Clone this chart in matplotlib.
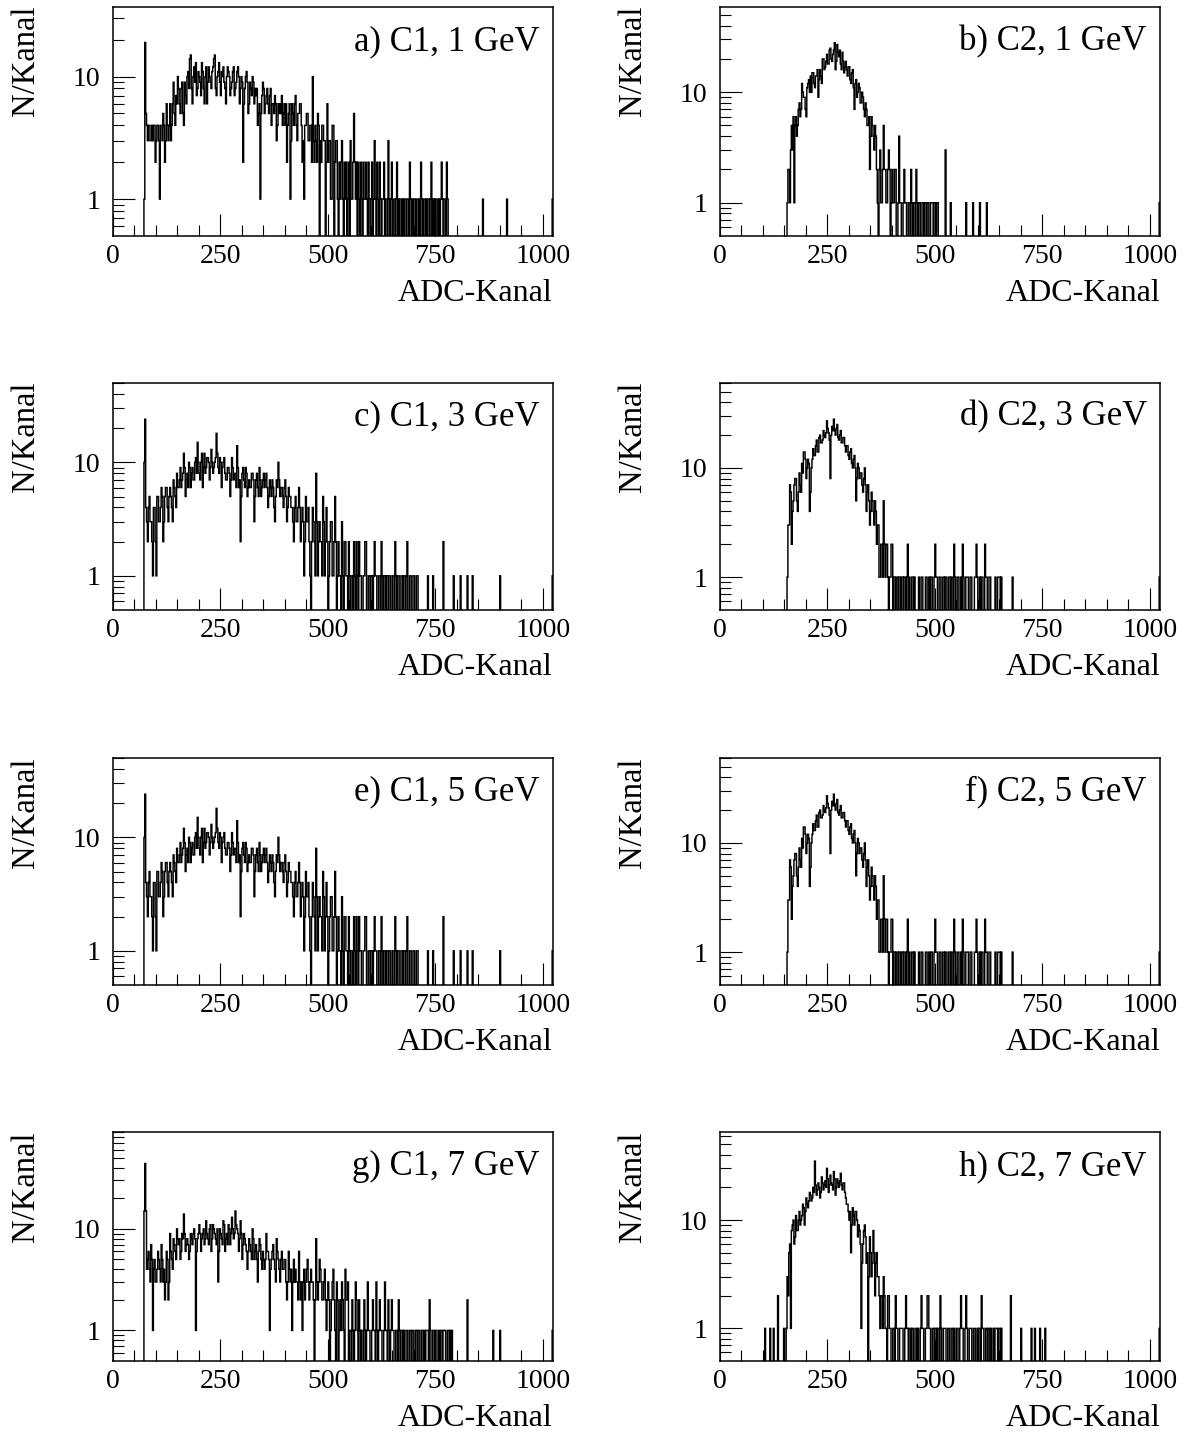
import matplotlib
matplotlib.use("Agg")
import matplotlib.pyplot as plt
from matplotlib.ticker import FixedLocator, NullFormatter
import numpy as np

plt.rcParams['font.family'] = ['Liberation Serif', 'DejaVu Serif']

# --- ADC spectra, N per channel (2 channels per bin)
BIN = 2
NCH = 1024

panels = ["a) C1, 1 GeV", "b) C2, 1 GeV", "c) C1, 3 GeV", "d) C2, 3 GeV",
          "e) C1, 5 GeV", "f) C2, 5 GeV", "g) C1, 7 GeV", "h) C2, 7 GeV"]

a_first = 72
a_counts = [1, 19, 5, 4, 3, 4, 4, 3, 3, 4,   3, 4, 4, 2, 3, 4, 4, 3, 1, 4,
            4, 3, 5, 4, 2, 3, 6, 4, 3, 4,    6, 3, 4, 6, 9, 5, 4, 7, 6, 10,
            8, 6, 5, 8, 9, 5, 4, 9, 7, 6,    10, 11, 8, 14, 15, 8, 6, 10, 12, 9,
            13, 7, 8, 11, 10, 9, 7, 13, 11, 8,  6, 10, 12, 6, 9, 12, 10, 9, 8, 11,
            12, 14, 15, 8, 7, 10, 11, 13, 9, 7,  11, 10, 12, 9, 8, 6, 10, 12, 11, 10,
            7, 8, 9, 11, 12, 7, 8, 9, 11, 12,  10, 6, 8, 10, 9, 2, 6, 8, 10, 11,
            9, 5, 6, 9, 8, 7, 10, 9, 6, 8,   7, 8, 4, 5, 6, 1, 5, 7, 9, 8,
            5, 6, 7, 8, 6, 5, 7, 8, 4, 6,    6, 5, 7, 6, 3, 4, 6, 5, 6, 5,
            7, 4, 5, 6, 4, 6, 2, 4, 5, 6,    1, 3, 6, 5, 4, 6, 7, 4, 3, 5,
            5, 6, 6, 4, 2, 3, 1, 4, 4, 5,    5, 3, 3, 4, 4, 2, 10, 3, 2, 4,
            3, 2, 5, 4, 0, 3, 2, 4, 4, 3,    3, 0, 2, 6, 2, 3, 3, 1, 1, 4,
            4, 0, 2, 3, 3, 1, 0, 2, 1, 2,    3, 1, 0, 2, 1, 2, 0, 1, 2, 0,
            3, 1, 1, 2, 5, 2, 1, 2, 0, 2,    1, 0, 2, 1, 0, 2, 1, 1, 2, 1,
            0, 2, 1, 0, 1, 2, 0, 1, 3, 1,    0, 2, 1, 0, 2, 1, 0, 1, 1, 2,
            0, 1, 1, 0, 3, 1, 0, 1, 2, 0,    1, 1, 0, 1, 2, 0, 1, 0, 1, 1,
            0, 1, 0, 1, 1, 0, 1, 1, 0, 2,    1, 0, 1, 0, 1, 1, 0, 1, 1, 0,
            1, 0, 2, 1, 0, 1, 1, 0, 1, 0,    1, 1, 0, 1, 2, 0, 1, 0, 1, 0,
            1, 1, 0, 1, 0, 1, 2, 1, 0, 1,    1, 0, 2, 1, 0]
a_tail_ch = [860, 916, 1022]
a_tail_n = [1, 1, 1]

b_first = 156
b_counts = [1, 2, 2, 1, 3, 5, 3, 6, 1, 5,    6, 4, 5, 7, 8, 6, 7, 12, 10, 9,
            9, 7, 6, 11, 12, 13, 10, 14, 10, 15,  15, 12, 11, 14, 14, 16, 9, 13, 16, 14,
            12, 20, 20, 16, 17, 19, 22, 18, 18, 24,  25, 20, 19, 22, 24, 28, 16, 19, 27, 23,
            21, 24, 18, 16, 23, 19, 15, 17, 19, 16,  14, 17, 17, 13, 12, 15, 16, 11, 7, 12,
            13, 9, 10, 12, 11, 8, 8, 10, 9, 7,   6, 8, 7, 5, 5, 6, 2, 4, 6, 5,
            4, 3, 5, 4, 2, 1, 0, 2, 3, 1,    1, 2, 5, 2, 2, 1, 1, 2, 3, 2,
            0, 1, 2, 1, 1, 2, 2, 0, 0, 1,    4, 1, 1, 0, 0, 1, 2, 1, 1, 0,
            0, 1, 1, 0, 2, 1, 0, 1, 1, 0,    2, 1, 0, 1, 1, 0, 0, 1, 1, 0,
            1, 1, 0, 1, 1, 0, 0, 1, 1, 1,    0, 1, 1, 0, 1, 1]
b_tail_ch = [524, 536, 572, 588, 604, 620, 1022]
b_tail_n = [3, 1, 1, 1, 1, 1, 1]

c_first = 72
c_counts = [10, 24, 4, 3, 2, 4, 5, 3, 3, 2,   1, 4, 4, 2, 1, 5, 5, 3, 3, 4,
            6, 5, 2, 3, 5, 6, 6, 4, 3, 5,    6, 5, 4, 3, 7, 6, 5, 4, 8, 6,
            6, 7, 9, 6, 7, 8, 12, 9, 5, 7,   8, 6, 10, 9, 6, 8, 9, 7, 7, 10,
            11, 8, 15, 10, 8, 7, 10, 12, 6, 9,  12, 8, 9, 11, 11, 10, 7, 9, 13, 10,
            8, 9, 10, 11, 18, 12, 9, 8, 11, 10,  6, 9, 10, 11, 8, 7, 7, 9, 9, 8,
            5, 7, 11, 9, 7, 8, 8, 6, 14, 9,   6, 7, 2, 5, 8, 9, 7, 6, 9, 8,
            5, 6, 7, 6, 6, 8, 8, 7, 3, 5,    7, 8, 6, 5, 9, 7, 5, 6, 7, 8,
            6, 7, 8, 6, 4, 5, 7, 6, 5, 7,    6, 4, 3, 5, 7, 6, 10, 7, 5, 6,
            6, 5, 4, 6, 7, 5, 3, 4, 6, 5,    5, 4, 4, 3, 2, 4, 5, 3, 3, 4,
            6, 4, 2, 3, 4, 3, 1, 2, 5, 3,    3, 4, 2, 1, 0, 2, 4, 3, 2, 1,
            8, 3, 1, 2, 3, 2, 2, 1, 5, 3,    1, 2, 4, 2, 0, 1, 2, 3, 3, 1,
            1, 2, 5, 2, 0, 1, 2, 1, 1, 0,    3, 1, 0, 2, 2, 1, 1, 0, 2, 1,
            0, 1, 1, 0, 2, 1, 0, 2, 1, 0,    2, 1, 1, 0, 0, 1, 1, 2, 2, 0,
            0, 1, 1, 0, 1, 1, 0, 1, 2, 1,    1, 0, 0, 1, 1, 0, 2, 1, 0, 1,
            1, 0, 1, 1, 0, 1, 1, 0, 0, 1,    1, 0, 2, 1, 0, 1, 1, 0, 0, 1,
            1, 0, 1, 1, 0, 1, 2, 0, 0, 1,    1, 0, 0, 1, 1, 0, 0, 1, 1, 0]
c_tail_ch = [732, 744, 768, 792, 808, 824, 836, 900, 1022]
c_tail_n = [1, 1, 2, 1, 1, 1, 1, 1, 1]

d_first = 156
d_counts = [1, 3, 3, 7, 6, 2, 4, 5, 7, 8,    8, 5, 4, 6, 9, 7, 6, 11, 9, 14,
            14, 12, 8, 10, 12, 11, 4, 6, 10, 12,  15, 13, 13, 16, 18, 14, 14, 19, 20, 17,
            17, 18, 22, 20, 19, 21, 27, 23, 21, 18,  8, 20, 24, 22, 28, 22, 20, 23, 25, 19,
            18, 20, 22, 17, 17, 19, 19, 16, 14, 16,  16, 13, 12, 14, 15, 11, 10, 12, 13, 10,
            5, 8, 11, 10, 8, 9, 9, 7, 6, 8,   10, 7, 4, 6, 7, 5, 3, 4, 6, 5,
            4, 3, 5, 4, 2, 3, 3, 1, 1, 2,    2, 1, 5, 2, 1, 2, 2, 1, 0, 1,
            1, 2, 2, 0, 1, 1, 0, 1, 1, 0,    1, 1, 0, 1, 1, 0, 1, 1, 0, 1,
            2, 0, 1, 0, 0, 1, 1, 0, 1, 0,    0, 0, 0, 1, 0, 0, 1, 1, 0, 0,
            0, 1, 1, 0, 0, 1, 0, 1, 1, 0,    0, 1, 2, 1, 1, 0, 0, 1, 1, 0,
            0, 1, 1, 0, 1, 1, 0, 0, 1, 1,    0, 1, 1, 0, 2, 1, 0, 0, 1, 1,
            0, 0, 1, 0, 2, 1, 0, 0, 1, 1,    1, 0, 0, 1, 1, 0, 0, 0, 1, 1,
            2, 1, 0, 0, 1, 0, 1, 1, 0, 0,    2, 1, 1, 0, 0, 1, 1, 0, 0, 0,
            0, 0, 1, 0, 0, 1, 1, 1, 0, 1]
d_tail_ch = [680, 1022]
d_tail_n = [1, 1]

# the 5 GeV spectra look identical to the 3 GeV ones
e_first, e_counts, e_tail_ch, e_tail_n = c_first, c_counts, c_tail_ch, c_tail_n
f_first, f_counts, f_tail_ch, f_tail_n = d_first, d_counts, d_tail_ch, d_tail_n

g_first = 72
g_counts = [15, 44, 15, 4, 5, 6, 4, 3, 7, 5,   1, 4, 5, 3, 3, 4, 6, 5, 4, 3,
            7, 5, 3, 4, 2, 3, 6, 5, 2, 3,    9, 6, 5, 4, 8, 7, 6, 5, 10, 8,
            7, 8, 5, 6, 9, 8, 14, 9, 6, 7,   8, 7, 5, 6, 9, 8, 7, 9, 10, 8,
            1, 6, 8, 9, 11, 9, 6, 8, 9, 10,  7, 8, 12, 9, 8, 7, 10, 11, 6, 8,
            11, 10, 9, 8, 7, 10, 3, 6, 10, 9,  8, 7, 12, 11, 6, 8, 9, 7, 11, 10,
            7, 9, 13, 10, 8, 9, 15, 11, 10, 9,  6, 8, 12, 9, 5, 7, 9, 8, 7, 6,
            4, 6, 8, 7, 6, 5, 10, 8, 5, 6,   7, 5, 3, 6, 8, 7, 5, 4, 6, 5,
            4, 5, 9, 6, 6, 5, 1, 4, 5, 6,    7, 5, 4, 3, 8, 6, 5, 4, 3, 5,
            6, 4, 4, 5, 5, 3, 2, 3, 6, 4,    3, 4, 1, 3, 5, 3, 4, 3, 3, 2,
            6, 3, 2, 3, 1, 3, 4, 2, 3, 4,    5, 3, 2, 3, 4, 3, 3, 2, 0, 2,
            8, 3, 2, 3, 5, 4, 3, 2, 2, 3,    4, 2, 1, 2, 3, 2, 0, 1, 2, 3,
            4, 2, 1, 0, 3, 2, 0, 1, 2, 1,    3, 2, 1, 0, 4, 2, 2, 3, 0, 1,
            1, 0, 2, 1, 0, 1, 3, 2, 1, 0,    2, 1, 0, 1, 1, 0, 2, 1, 0, 1,
            3, 1, 1, 0, 0, 1, 2, 1, 1, 0,    3, 1, 0, 1, 2, 1, 1, 0, 0, 1,
            3, 1, 1, 0, 2, 1, 0, 1, 2, 1,    1, 0, 0, 1, 1, 0, 2, 1, 0, 1,
            1, 0, 1, 0, 0, 1, 1, 0, 0, 1,    1, 0, 1, 1, 0, 0, 1, 1, 0, 1,
            1, 0, 0, 1, 1, 0, 1, 0, 1, 1,    1, 0, 2, 1, 0, 0, 1, 1, 0, 1,
            1, 0, 0, 1, 0, 1, 1, 0, 1, 1,    1, 0, 0, 1, 1, 0, 1, 0, 1]
g_tail_ch = [824, 884, 900, 1022]
g_tail_n = [2, 1, 1, 1]

h_first = 104
h_counts = [1, 0, 0, 0, 0, 0, 1, 0, 0, 0,    1, 0, 0, 0, 0, 2, 0, 0, 0, 0,
            0, 0, 1, 0, 0, 1, 3, 2, 5, 6,    1, 8, 9, 10, 6, 7, 11, 8, 8, 10,
            12, 9, 10, 11, 14, 13, 9, 12, 16, 14,  13, 15, 18, 17, 15, 16, 20, 18, 35, 21,
            17, 19, 22, 20, 16, 18, 25, 22, 19, 21,  23, 20, 30, 24, 18, 21, 26, 22, 21, 19,
            28, 24, 17, 20, 24, 22, 20, 23, 27, 21,  19, 22, 22, 18, 16, 14, 14, 12, 10, 12,
            5, 9, 13, 11, 9, 12, 12, 10, 7, 9,   8, 6, 1, 4, 6, 8, 9, 7, 4, 5,
            0, 3, 7, 5, 3, 4, 8, 5, 2, 4,    5, 3, 3, 2, 1, 2, 2, 1, 3, 2,
            1, 1, 0, 2, 2, 1, 1, 0, 0, 1,    1, 0, 2, 1, 1, 0, 0, 1, 1, 1,
            1, 0, 0, 1, 2, 1, 1, 0, 1, 1,    0, 1, 1, 0, 0, 1, 1, 0, 1, 0,
            0, 1, 2, 1, 1, 0, 0, 1, 1, 2,    2, 1, 1, 0, 0, 1, 1, 0, 1, 1,
            0, 1, 1, 0, 2, 1, 0, 0, 1, 1,    1, 0, 0, 1, 1, 0, 0, 1, 1, 0,
            1, 0, 0, 1, 1, 0, 0, 1, 2, 1,    1, 0, 0, 1, 2, 1, 0, 0, 1, 1,
            1, 0, 0, 1, 1, 0, 0, 1, 0, 1,    1, 0, 2, 1, 1, 0, 0, 1, 1, 0,
            1, 1, 0, 1, 0, 0, 1, 0, 1, 1,    1, 0, 1, 1, 0, 1]
h_tail_ch = [676, 700, 724, 732, 744, 756, 1022]
h_tail_n = [2, 1, 1, 1, 1, 1, 1]

y_max = [37, 59, 50, 60, 50, 60, 90, 65]

spectra = [(a_first, a_counts, a_tail_ch, a_tail_n),
           (b_first, b_counts, b_tail_ch, b_tail_n),
           (c_first, c_counts, c_tail_ch, c_tail_n),
           (d_first, d_counts, d_tail_ch, d_tail_n),
           (e_first, e_counts, e_tail_ch, e_tail_n),
           (f_first, f_counts, f_tail_ch, f_tail_n),
           (g_first, g_counts, g_tail_ch, g_tail_n),
           (h_first, h_counts, h_tail_ch, h_tail_n)]


def build(first, counts, tail_ch, tail_n):
    hist = np.zeros(NCH // BIN)
    i0 = first // BIN
    hist[i0:i0 + len(counts)] = counts
    for ch, n in zip(tail_ch, tail_n):
        hist[ch // BIN] = n
    # empty bins drop below the log axis
    return np.where(hist > 0, hist, 1e-3)


edges = np.arange(0, NCH + BIN, BIN)

W, H = 1186, 1433
fig = plt.figure(figsize=(W / 100, H / 100), dpi=100)

# pixel layout of the panel grid
col_left = [113, 720]
row_top = [7, 383, 758, 1132]
row_h = [229, 227, 227, 229]
ax_w = 440

for k, (title, spec) in enumerate(zip(panels, spectra)):
    r, c = k // 2, k % 2
    ax = fig.add_axes([col_left[c] / W, 1 - (row_top[r] + row_h[r]) / H,
                       ax_w / W, row_h[r] / H])
    ax.stairs(build(*spec), edges, color='black', lw=1.05, baseline=None)
    ax.set_yscale('log')
    ax.set_xlim(0, NCH)
    ax.set_ylim(0.5, y_max[k])

    ax.xaxis.set_major_locator(FixedLocator([0, 250, 500, 750, 1000]))
    ax.xaxis.set_minor_locator(FixedLocator(np.arange(50, 1001, 50)))
    ax.yaxis.set_major_locator(FixedLocator([1, 10]))
    ax.yaxis.set_minor_locator(FixedLocator([0.6, 0.7, 0.8, 0.9] + list(range(2, 10))
                                            + list(range(20, 100, 10))))
    ax.yaxis.set_minor_formatter(NullFormatter())
    ax.set_yticklabels(["1", "10"])
    ax.tick_params(which='both', direction='in', top=False, right=False,
                   width=0.8, labelsize=20)
    ax.tick_params(which='major', length=16, pad=6)
    ax.tick_params(which='minor', length=8)
    ax.tick_params(axis='y', pad=9)
    for s in ax.spines.values():
        s.set_linewidth(1.1)

    ax.set_xlabel("ADC-Kanal", fontsize=23, loc='right', labelpad=7)
    fig.text((col_left[c] - 87) / W, 1 - (row_top[r] - 1) / H, "N/Kanal",
             rotation=90, ha='center', va='top', fontsize=23.5)
    ax.text(0.97, 0.85, title, transform=ax.transAxes, ha='right', va='center',
            fontsize=25)

fig.savefig("out.png", dpi=100)
